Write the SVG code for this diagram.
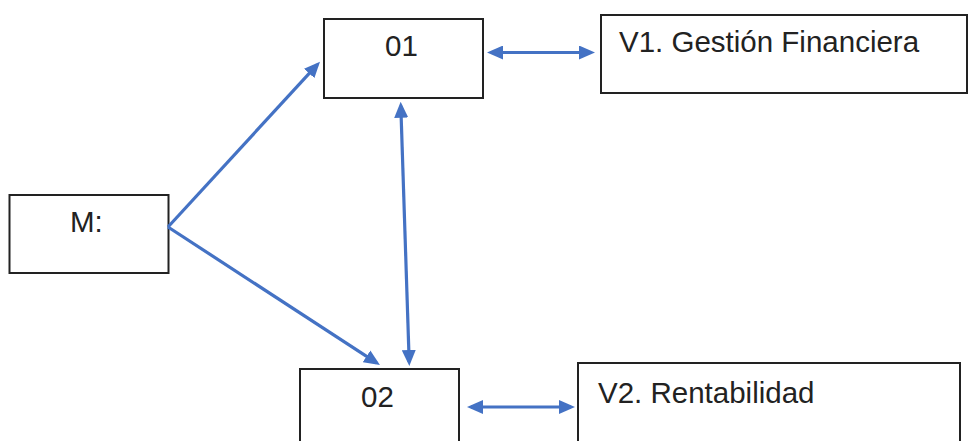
<svg xmlns="http://www.w3.org/2000/svg" width="969" height="441" viewBox="0 0 969 441">
  <style>
    .box { fill: #ffffff; stroke: #222222; stroke-width: 2; }
    .lbl { font-family: "Liberation Sans", Arial, sans-serif; font-size: 29.5px; fill: #222222; }
    .conn { stroke: #4472C4; stroke-width: 3.2; fill: none; }
  </style>
  <defs>
    <marker id="ah" viewBox="0 0 16 14" refX="12" refY="7" markerWidth="16" markerHeight="14" markerUnits="userSpaceOnUse" orient="auto-start-reverse">
      <path d="M0,0 L16,7 L0,14 z" fill="#4472C4"/>
    </marker>
  </defs>
  <rect width="969" height="441" fill="#ffffff"/>

  <g id="node-M">
    <rect class="box" x="9.5" y="195" width="159" height="78"/>
    <text class="lbl" x="70" y="232">M:</text>
  </g>
  <g id="node-01">
    <rect class="box" x="324" y="19" width="159" height="79"/>
    <text class="lbl" x="385" y="56">01</text>
  </g>
  <g id="node-02">
    <rect class="box" x="300" y="369" width="159" height="80"/>
    <text class="lbl" x="361" y="407">02</text>
  </g>
  <g id="node-V1">
    <rect class="box" x="601" y="15" width="366" height="78"/>
    <text class="lbl" x="619" y="52">V1. Gestión Financiera</text>
  </g>
  <g id="node-V2">
    <rect class="box" x="578" y="363" width="382" height="85"/>
    <text class="lbl" x="598" y="403">V2. Rentabilidad</text>
  </g>

  <g id="connectors">
    <line class="conn" x1="168" y1="227" x2="317.3" y2="64.6" marker-end="url(#ah)"/>
    <line class="conn" x1="168" y1="227" x2="376.6" y2="362.8" marker-end="url(#ah)"/>
    <line class="conn" x1="400.8" y1="105.7" x2="409.2" y2="362" marker-start="url(#ah)" marker-end="url(#ah)"/>
    <line class="conn" x1="491" y1="52.5" x2="591" y2="52.5" marker-start="url(#ah)" marker-end="url(#ah)"/>
    <line class="conn" x1="471" y1="407" x2="571" y2="407" marker-start="url(#ah)" marker-end="url(#ah)"/>
  </g>
</svg>
